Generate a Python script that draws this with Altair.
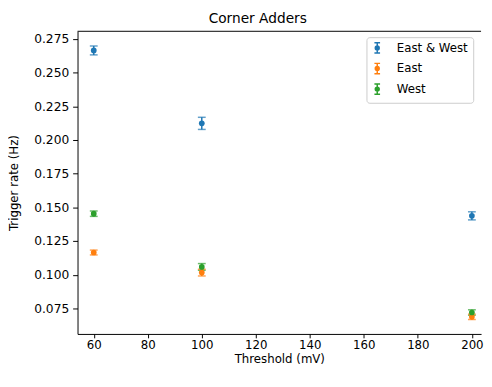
import altair as alt
import pandas as pd

thresholds = [60, 100, 200]
series = ["East & West", "East", "West"]
rate_ew = [0.2664, 0.2123, 0.1437]
err_ew = [0.0033, 0.0045, 0.0030]
rate_e = [0.1165, 0.1016, 0.0688]
err_e = [0.0018, 0.0025, 0.0020]
rate_w = [0.1453, 0.1058, 0.0720]
err_w = [0.0020, 0.0025, 0.0020]
colors = ["#1f77b4", "#ff7f0e", "#2ca02c"]

rows = []
for name, rates, errs in [("East & West", rate_ew, err_ew), ("East", rate_e, err_e), ("West", rate_w, err_w)]:
    for t, r, e in zip(thresholds, rates, errs):
        rows.append({"threshold": t, "rate": r, "lo": r - e, "hi": r + e, "series": name})
df = pd.DataFrame(rows)

FONT = "DejaVu Sans"
W, H = 412, 309

xscale = alt.Scale(domain=[54.0, 203.4], nice=False, zero=False)
yscale = alt.Scale(domain=[0.0561, 0.2806], nice=False, zero=False)
cscale = alt.Scale(domain=series, range=colors)

xax = alt.Axis(values=[60, 80, 100, 120, 140, 160, 180, 200], grid=False, tickSize=4,
               labelPadding=2, titlePadding=3, domainColor="#000", tickColor="#000",
               labelFlush=False, labelOverlap=False)
yax = alt.Axis(values=[0.075, 0.1, 0.125, 0.15, 0.175, 0.2, 0.225, 0.25, 0.275], format=".3f",
               grid=False, tickSize=5, labelPadding=4, titlePadding=13, domainColor="#000",
               tickColor="#000", labelOverlap=False, labelFontSize=12.5)

legend = alt.Legend(
    title=None, orient="none", legendX=295, legendY=6,
    symbolType="M-0.55,-1H0.55M0,-1V1M-0.55,1H0.55M0.38,0A0.38,0.38,0,1,1,-0.38,0A0.38,0.38,0,1,1,0.38,0Z",
    symbolSize=110, symbolStrokeWidth=1.5, symbolOpacity=1, labelFontSize=12, labelFont=FONT,
    labelColor="#000", strokeColor="#cccccc", cornerRadius=3, padding=5, rowPadding=3,
    labelOffset=14, fillColor="white", labelLimit=200,
)

base = alt.Chart(df)
x = alt.X("threshold:Q", scale=xscale, axis=xax, title="Threshold (mV)")
y = alt.Y("rate:Q", scale=yscale, axis=yax, title="Trigger rate (Hz)")
ylo = alt.Y("lo:Q", scale=yscale, axis=yax, title="Trigger rate (Hz)")
yhi = alt.Y("hi:Q", scale=yscale, axis=yax, title="Trigger rate (Hz)")
col = alt.Color("series:N", scale=cscale, legend=legend)

bars = base.mark_rule(strokeWidth=1.5).encode(x=x, y=ylo, y2="hi:Q", color=col)
cap_lo = base.mark_tick(orient="horizontal", size=8, thickness=1.5).encode(x=x, y=ylo, color=col)
cap_hi = base.mark_tick(orient="horizontal", size=8, thickness=1.5).encode(x=x, y=yhi, color=col)
points = base.mark_point(filled=True, size=34, opacity=1).encode(x=x, y=y, color=col)

top_border = alt.Chart(pd.DataFrame({"a": [0]})).mark_rule(color="#000", strokeWidth=1).encode(
    x=alt.value(0), x2=alt.value(W), y=alt.value(0)
)

chart = alt.layer(bars, cap_lo, cap_hi, points, top_border).properties(
    width=W, height=H, background="white", padding=0,
    title=alt.TitleParams("Corner Adders", fontSize=14, font=FONT, fontWeight="normal",
                          color="#000", dx=-22, offset=5),
).configure_view(stroke=None).configure_axis(
    labelFont=FONT, titleFont=FONT, labelFontSize=12, titleFontSize=12,
    titleFontWeight="normal", labelColor="#000", titleColor="#000", domainWidth=1, tickWidth=1,
)

chart.save("out.html", embed_options={"renderer": "svg", "actions": False})
